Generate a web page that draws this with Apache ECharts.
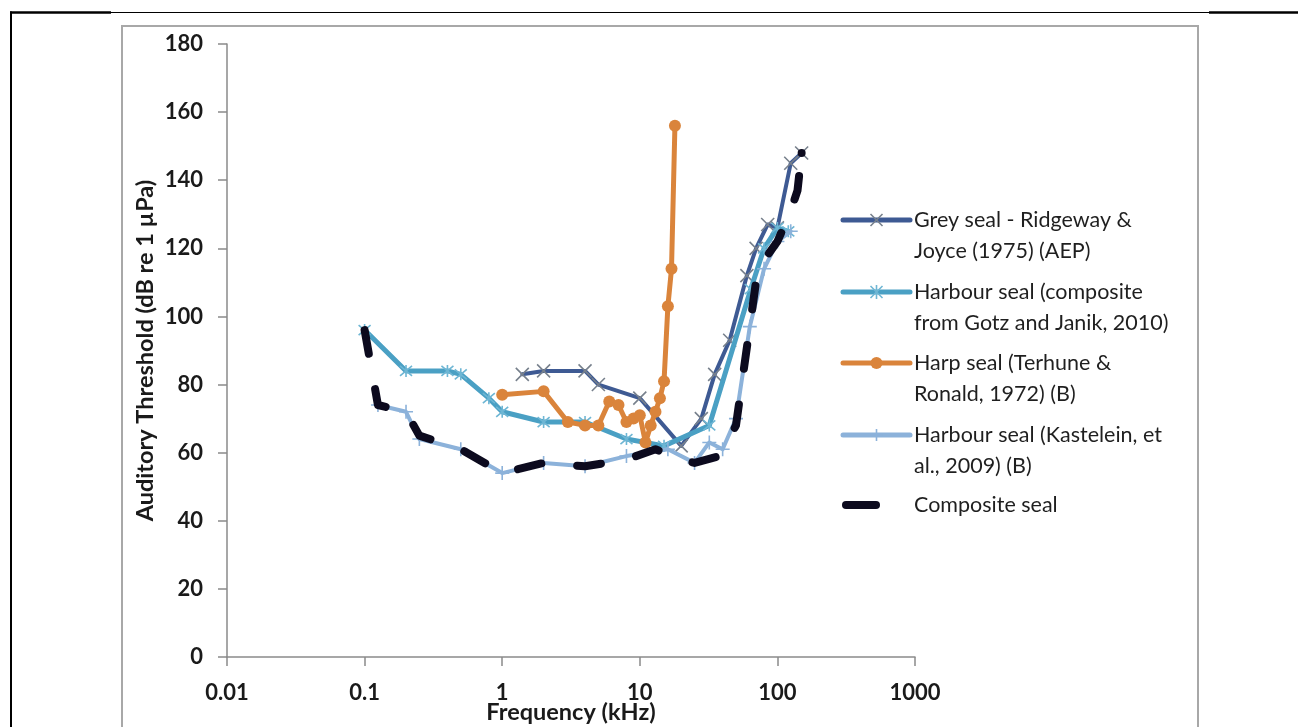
<!DOCTYPE html>
<html><head><meta charset="utf-8">
<script src="https://cdn.jsdelivr.net/npm/echarts@6/dist/echarts.min.js"></script>
<style>html,body{margin:0;padding:0;background:#fff}#c{width:1298px;height:727px}</style>
</head><body><div id="c"></div>
<script>
// ---------- data ----------
const seriesNames = [
  'Grey seal - Ridgeway & Joyce (1975) (AEP)',
  'Harbour seal (composite from Gotz and Janik, 2010)',
  'Harp seal (Terhune & Ronald, 1972) (B)',
  'Harbour seal (Kastelein, et al., 2009) (B)',
  'Composite seal'
];
const legendLabels = [
  'Grey seal - Ridgeway &\nJoyce (1975) (AEP)',
  'Harbour seal (composite\nfrom Gotz and Janik, 2010)',
  'Harp seal (Terhune &\nRonald, 1972) (B)',
  'Harbour seal (Kastelein, et\nal., 2009) (B)',
  'Composite seal'
];
// [frequency kHz, threshold dB]
const greySeal = [[1.4,83],[2,84],[4,84],[5,80],[10,76],[20,62],[28,70],[35,83],[45,93],[60,112],[70,120],[85,127],[100,126],[125,145],[150,148]];
const harbourComposite = [[0.1,96],[0.2,84],[0.4,84],[0.5,83],[0.8,76],[1,72],[2,69],[4,69],[8,64],[15,62],[32,68],[64,108],[80,120],[100,126],[120,125]];
const harpSeal = [[1,77],[2,78],[3,69],[4,68],[5,68],[6,75],[7,74],[8,69],[9,70],[10,71],[11,63],[12,68],[13,72],[14,76],[15,81],[16,103],[17,114],[18,156]];
const harbourKastelein = [[0.125,74],[0.2,72],[0.25,64],[0.5,61],[1,54],[2,57],[4,56],[8,59],[16,61],[25,57],[32,63],[40,61],[50,70],[63,97],[80,114],[100,122],[125,125]];
const compositeSeal = [[0.1,96],[0.125,74],[0.2,72],[0.25,65],[0.5,61],[1,54],[2,57],[4,56],[8,58],[13,61],[20,58],[25,57],[38,59],[50,68],[63,97],[72,114],[100,122],[125,131],[140,137],[150,148]];
const xTickLabels = ['0.01','0.1','1','10','100','1000'];
const yMin = 0, yMax = 180, yStep = 20;

// ---------- styles ----------
const FONT = 'Lato, "DejaVu Sans", sans-serif';
const colors = ['#3E5A93', '#4AA0C4', '#DA843B', '#8CB2DA', '#0C0A1E'];
const markColors = ['#77808C', '#6EB6D4', '#DA843B', '#8CB2DA', '#0C0A1E'];
const SYM_X = 'path://M0,0L10,10M10,0L0,10';
const SYM_AST = 'path://M0,0L10,10M10,0L0,10M5,-1L5,11';
const SYM_PLUS = 'path://M5,0L5,10M0,5L10,5';

const chart = echarts.init(document.getElementById('c'), null, {renderer: 'canvas'});

function lineSeries(i, data, sym, size, width, extra) {
  return Object.assign({
    name: seriesNames[i], type: 'line', data: data,
    symbol: sym, symbolSize: size, showAllSymbol: true,
    lineStyle: {color: colors[i], width: width, join: 'round', cap: 'round'},
    itemStyle: {color: 'rgba(0,0,0,0)', borderColor: markColors[i], borderWidth: 1.6},
    emphasis: {disabled: true}, animation: false, z: 2 + i
  }, extra || {});
}

// composite: only the final point carries a dot marker
const compositeData = compositeSeal.map((p, k) => k === compositeSeal.length - 1
  ? {value: p, symbol: 'circle', symbolSize: 8, itemStyle: {color: colors[4], borderWidth: 0}}
  : {value: p});

// legend graphic
const legendX = 843, legendLineEnd = 910, textX = 914;
const legendY = [220, 292, 363, 435, 505];
const graphics = [];
// page frame lines
graphics.push({type:'line', shape:{x1:10,y1:12.5,x2:111,y2:12.5}, style:{stroke:'#000',lineWidth:2.5}});
graphics.push({type:'line', shape:{x1:111,y1:12.5,x2:1209,y2:12.5}, style:{stroke:'#000',lineWidth:1.2}});
graphics.push({type:'line', shape:{x1:1209,y1:12.5,x2:1298,y2:12.5}, style:{stroke:'#000',lineWidth:2.5}});
graphics.push({type:'line', shape:{x1:11,y1:11.5,x2:11,y2:727}, style:{stroke:'#000',lineWidth:2}});
// chart border
graphics.push({type:'polyline', shape:{points:[[122,730],[122,26],[1198,26],[1198,730]]}, style:{stroke:'#a8a8a8',lineWidth:2,fill:null}});

function markerGraphics(kind, cx, cy, color, s) {
  const h = s / 2, out = [];
  if (kind === 'x' || kind === 'ast') {
    out.push({type:'line', shape:{x1:cx-h,y1:cy-h,x2:cx+h,y2:cy+h}, style:{stroke:color,lineWidth:1.6}});
    out.push({type:'line', shape:{x1:cx+h,y1:cy-h,x2:cx-h,y2:cy+h}, style:{stroke:color,lineWidth:1.6}});
  }
  if (kind === 'ast') out.push({type:'line', shape:{x1:cx,y1:cy-h-1,x2:cx,y2:cy+h+1}, style:{stroke:color,lineWidth:1.6}});
  if (kind === 'plus') {
    out.push({type:'line', shape:{x1:cx,y1:cy-h,x2:cx,y2:cy+h}, style:{stroke:color,lineWidth:1.6}});
    out.push({type:'line', shape:{x1:cx-h,y1:cy,x2:cx+h,y2:cy}, style:{stroke:color,lineWidth:1.6}});
  }
  if (kind === 'circle') out.push({type:'circle', shape:{cx:cx,cy:cy,r:h}, style:{fill:color}});
  return out;
}
const legendKinds = ['x','ast','circle','plus', null];
const legendWidths = [5, 5, 5, 5, 8];
legendLabels.forEach((lab, i) => {
  const y = legendY[i];
  if (i < 4) {
    graphics.push({type:'line', shape:{x1:legendX,y1:y,x2:legendLineEnd,y2:y}, style:{stroke:colors[i],lineWidth:legendWidths[i],lineCap:'round'}});
    markerGraphics(legendKinds[i], (legendX+legendLineEnd)/2, y, markColors[i], 12).forEach(g=>graphics.push(g));
  } else {
    graphics.push({type:'line', shape:{x1:846,y1:y,x2:876,y2:y}, style:{stroke:colors[i],lineWidth:8,lineCap:'round'}});
  }
  graphics.push({type:'text', x:textX, y:y-15.5, style:{text:lab, fill:'#1f1f1f', font:'21.5px ' + FONT, lineHeight:31, textVerticalAlign:'top', textAlign:'left'}});
});

const option = {
  backgroundColor: '#fff',
  animation: false,
  grid: {left: 227, top: 44, right: 383, bottom: 70, containLabel: false, outerBoundsMode: 'none'},
  xAxis: {
    type: 'log', logBase: 10, min: 0.01, max: 1000,
    name: 'Frequency (kHz)', nameLocation: 'middle', nameGap: 43, nameMoveOverlap: false,
    nameTextStyle: {fontFamily: FONT, fontWeight: 'bold', fontSize: 23.5, color: '#1a1a1a'},
    axisLine: {lineStyle: {color: '#8a8a8a', width: 1.5}},
    axisTick: {show: true, length: 9, lineStyle: {color: '#8a8a8a', width: 1.5}},
    minorTick: {show: false},
    splitLine: {show: false},
    axisLabel: {
      margin: 25, fontFamily: FONT, fontWeight: 'bold', fontSize: 22, color: '#1a1a1a',
      formatter: v => { const e = Math.round(Math.log10(v)) + 2; return xTickLabels[e] !== undefined ? xTickLabels[e] : ''; }
    }
  },
  yAxis: {
    type: 'value', min: yMin, max: yMax, interval: yStep,
    name: 'Auditory Threshold (dB re 1 µPa)', nameLocation: 'middle', nameGap: 70, nameRotate: 90, nameMoveOverlap: false,
    nameTextStyle: {fontFamily: FONT, fontWeight: 'bold', fontSize: 23.5, color: '#1a1a1a'},
    axisLine: {show: true, lineStyle: {color: '#8a8a8a', width: 1.5}},
    axisTick: {show: true, length: 9, lineStyle: {color: '#8a8a8a', width: 1.5}},
    splitLine: {show: false},
    axisLabel: {margin: 24, fontFamily: FONT, fontWeight: 'bold', fontSize: 22, color: '#1a1a1a'}
  },
  legend: {show: false},
  graphic: {elements: graphics},
  series: [
    lineSeries(0, greySeal, SYM_X, 13, 4),
    lineSeries(1, harbourComposite, SYM_AST, 12, 5),
    lineSeries(2, harpSeal, 'circle', 12, 5, {itemStyle: {color: colors[2], borderWidth: 0}}),
    lineSeries(3, harbourKastelein, SYM_PLUS, 14, 4),
    lineSeries(4, compositeData, 'none', 1, 8, {lineStyle: {color: colors[4], width: 8, type: [24, 36], cap: 'round', join: 'round'}})
  ]
};
chart.setOption(option);
</script>
</body></html>
